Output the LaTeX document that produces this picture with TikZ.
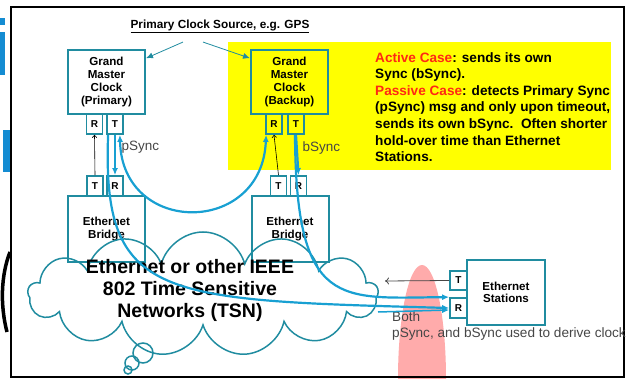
\documentclass[tikz,border=0pt]{standalone}
\usepackage{fontspec}
\setmainfont{Liberation Sans}
\usetikzlibrary{arrows.meta,shapes,positioning}
\definecolor{boxteal}{RGB}{32,140,160}
\definecolor{syncblue}{RGB}{24,160,210}
\definecolor{hlyellow}{RGB}{255,255,0}
\definecolor{casered}{RGB}{255,40,20}
\definecolor{notegrey}{RGB}{70,70,70}
\definecolor{slideblue}{RGB}{20,140,210}
\definecolor{marker}{RGB}{255,150,150}

\begin{document}
\begin{tikzpicture}[x=1pt,y=-1pt,
  box/.style={rectangle,draw=boxteal,line width=2pt,minimum width=77pt,minimum height=64pt,align=center,inner sep=0pt,font=\bfseries\fontsize{11.6}{12.7}\selectfont},
  port/.style={rectangle,draw=boxteal,line width=1.8pt,fill=white,minimum width=16pt,minimum height=20pt,inner sep=0pt,font=\bfseries\fontsize{10}{12}\selectfont},
  sync/.style={draw=syncblue,line width=2.2pt},
  relay/.style={draw=black,line width=0.6pt,-{To[length=3pt,width=5pt]}},
  >={Latex[length=7pt,width=6pt]}]
\useasboundingbox (0,0) rectangle (626,379);

% slide leftovers and frame
\fill[slideblue] (0,18) rectangle (5,25);
\fill[slideblue] (0,32) rectangle (5,75);
\fill[slideblue] (3,130) rectangle (10,172);
\draw[line width=3.5pt] (10,252) .. controls (1,275) and (0,305) .. (7,332);
\fill[hlyellow] (228,42) rectangle (611,170);
\fill[marker,opacity=0.8] (422,379) ellipse [x radius=24pt, y radius=114pt];
\draw[line width=1.5pt] (11,7) rectangle (624,377);

% clock source
\node[font=\bfseries\fontsize{11.8}{13}\selectfont] (title) at (220,26) {\underline{Primary Clock Source, e.g. GPS}};

% grand masters and their ports
\node[box] (gmp) at (106.5,82) {Grand\\Master\\Clock\\(Primary)};
\node[box,fill=hlyellow] (gmb) at (289.5,82) {Grand\\Master\\Clock\\(Backup)};
\node[port] (gmpR) at (94.5,124) {R};
\node[port] (gmpT) at (115,124) {T};
\node[port,fill=hlyellow] (gmbR) at (274,124) {R};
\node[port,fill=hlyellow] (gmbT) at (296,124) {T};

% bridges
\node[box,minimum height=66pt] (ebp) at (106.5,229) {Ethernet\\Bridge};
\node[box,minimum height=66pt] (ebb) at (290,229) {Ethernet\\Bridge};
\node[port] (ebpT) at (95,186) {T};
\node[port] (ebpR) at (115,186) {R};
\node[port] (ebbT) at (278.5,186) {T};
\node[port] (ebbR) at (298.5,186) {R};

% network cloud
\node[cloud,draw=boxteal,line width=1.5pt,cloud puffs=13,aspect=2.8,minimum width=350pt,minimum height=124pt] (tsn) at (203,294) {};
\node[align=center,font=\bfseries\fontsize{19.5}{22}\selectfont] (tsntext) at (190,290) {Ethernet or other IEEE\\802 Time Sensitive\\Networks (TSN)};
\draw[boxteal,line width=1.5pt] (143,353) circle (10pt);
\draw[boxteal,line width=1.5pt] (132,363) circle (7pt);
\draw[boxteal,line width=1.5pt] (128,370) circle (4pt);

% end station
\node[box,minimum width=78pt,minimum height=65pt] (es) at (506,292.5) {Ethernet\\Stations};
\node[port,minimum width=17pt,minimum height=19pt] (esT) at (458.5,280.5) {T};
\node[port,minimum width=17pt] (esR) at (458.5,308) {R};

% notes
\node[anchor=north west,align=left,inner sep=0pt,font=\bfseries\fontsize{13.6}{16.6}\selectfont] (cases) at (375,52) {\textcolor{casered}{Active Case}: sends its own\\
Sync (bSync).\\
\textcolor{casered}{Passive Case}: detects Primary Sync\\
(pSync) msg and only upon timeout,\\
sends its own bSync.\ \ Often shorter\\
hold-over time than Ethernet\\
Stations.};
\node[anchor=west,text=notegrey,font=\fontsize{13.5}{15}\selectfont] (plabel) at (118,147) {pSync};
\node[anchor=west,text=notegrey,font=\fontsize{13.5}{15}\selectfont] (blabel) at (299,148) {bSync};
\node[anchor=north west,align=left,inner sep=0pt,text=notegrey,font=\fontsize{13.6}{16.5}\selectfont] (both) at (392,311) {Both\\pSync, and bSync used to derive clock};

% connectors
\draw[boxteal,line width=0.8pt,->] ([shift={(-37,6)}]title.south) -- (gmp.31);
\draw[boxteal,line width=0.8pt,->] ([shift={(-17,6)}]title.south) -- (gmb.149);
\draw[relay] (ebpT.north) -- (gmpR.south);
\draw[relay] (ebbT.north) -- (gmbR.south);
\draw[sync,->] (gmpT.south) -- (ebpR.north);
\draw[sync,->] (gmbT.south) -- (ebbR.north);
\draw[sync,<->] ([xshift=-4pt]gmpT.south east) .. controls (122,236) and (262,236) .. ([xshift=1pt]gmbR.south west);
\draw[sync,->] ([xshift=2pt]gmpT.south west) .. controls (102,300) and (160,300) .. (esR.west);
\draw[sync,->] ([xshift=-1pt]gmbT.south) .. controls (296,310) and (340,298) .. (esR.north west);
\coordinate (merge) at (378,312);
\draw[sync,line width=1.5pt,->] (merge) -- ([yshift=-2pt]esR.west);
\coordinate (gap) at (385,281);
\draw[notegrey,line width=0.8pt,-{To[length=4pt,width=7pt]}] (esT.west) -- (gap);
\end{tikzpicture}
\end{document}
